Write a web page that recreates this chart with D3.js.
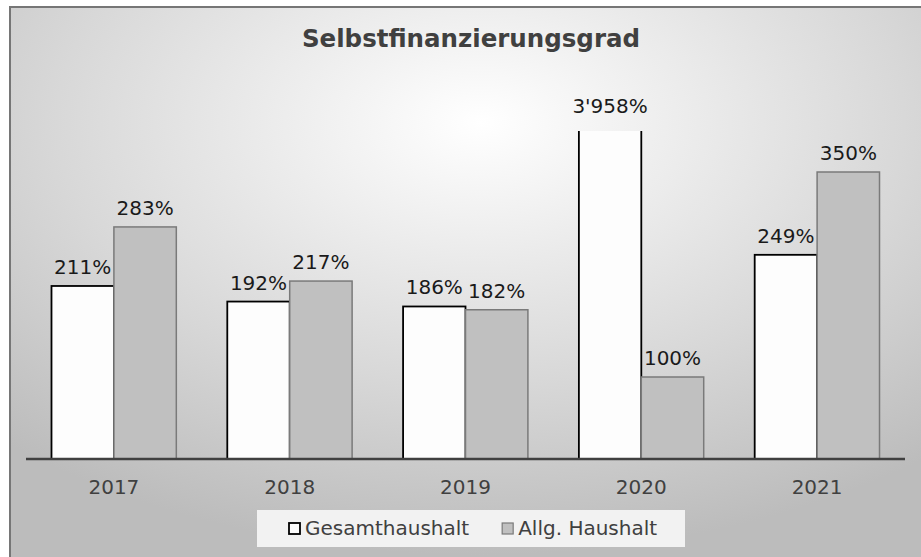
<!DOCTYPE html>
<html>
<head>
<meta charset="utf-8">
<script src="https://cdn.jsdelivr.net/npm/d3@7"></script>
<style>
  body { margin: 0; background: #fff; }
  text { font-family: "DejaVu Sans", Verdana, sans-serif; }
</style>
</head>
<body>
<div id="chart"></div>
<script>
// Chart data
var years = ["2017", "2018", "2019", "2020", "2021"];
var gesamt = [211, 192, 186, 3958, 249];
var allg = [283, 217, 182, 100, 350];
var seriesNames = ["Gesamthaushalt", "Allg. Haushalt"];
var yMax = 400;

var W = 921, H = 557;
var plot = { left: 26, right: 905, top: 131, bottom: 459 };

var svg = d3.select("#chart").append("svg")
  .attr("width", W)
  .attr("height", H);

var defs = svg.append("defs");
var grad = defs.append("radialGradient")
  .attr("id", "bg")
  .attr("cx", "0.5").attr("cy", "0.2").attr("r", "0.75")
  .attr("fx", "0.5").attr("fy", "0.2");
grad.append("stop").attr("offset", "0").attr("stop-color", "#ffffff");
grad.append("stop").attr("offset", "0.6").attr("stop-color", "#d8d8d8");
grad.append("stop").attr("offset", "1").attr("stop-color", "#bcbcbc");

defs.append("clipPath").attr("id", "plotclip")
  .append("rect")
  .attr("x", plot.left - 5).attr("y", plot.top)
  .attr("width", plot.right - plot.left + 10)
  .attr("height", plot.bottom - plot.top + 5);

// chart area with border
svg.append("rect")
  .attr("x", 10).attr("y", 7)
  .attr("width", W + 20).attr("height", H + 20)
  .attr("fill", "url(#bg)")
  .attr("stroke", "#767676")
  .attr("stroke-width", 2);

// title
svg.append("text")
  .attr("x", 471).attr("y", 47)
  .attr("text-anchor", "middle")
  .attr("font-size", 24.5)
  .attr("font-weight", "bold")
  .attr("fill", "#404040")
  .text("Selbstfinanzierungsgrad");

// scales
var x0 = d3.scaleBand()
  .domain(years)
  .range([plot.left, plot.right])
  .paddingInner(0.29)
  .paddingOuter(0.145);
var x1 = d3.scaleBand()
  .domain([0, 1])
  .range([0, x0.bandwidth()]);
var y = d3.scaleLinear()
  .domain([0, yMax])
  .range([plot.bottom, plot.top]);

var loc = d3.formatLocale({ decimal: ".", thousands: "'", grouping: [3], currency: ["", ""] });
var fmt = loc.format(",");

var rows = years.map(function (yr, i) {
  return { year: yr, vals: [gesamt[i], allg[i]] };
});

var fills = ["#fdfdfd", "#c0c0c0"];
var strokes = ["#000000", "#7a7a7a"];

var g = svg.append("g").attr("clip-path", "url(#plotclip)");
var groups = g.selectAll(".grp")
  .data(rows)
  .enter().append("g")
  .attr("transform", function (d) { return "translate(" + x0(d.year) + ",0)"; });

groups.selectAll("rect")
  .data(function (d) { return d.vals.map(function (v, k) { return { k: k, v: v }; }); })
  .enter().append("rect")
  .attr("x", function (d) { return x1(d.k); })
  .attr("y", function (d) { return d.v > yMax ? plot.top - 10 : y(d.v); })
  .attr("width", x1.bandwidth())
  .attr("height", function (d) { return plot.bottom - (d.v > yMax ? plot.top - 10 : y(d.v)); })
  .attr("fill", function (d) { return fills[d.k]; })
  .attr("stroke", function (d) { return strokes[d.k]; })
  .attr("stroke-width", function (d) { return d.k === 0 ? 1.8 : 1.5; });

// data labels
var labels = svg.append("g");
rows.forEach(function (r) {
  r.vals.forEach(function (v, k) {
    var top = v > yMax ? plot.top - 6 : y(v);
    labels.append("text")
      .attr("x", x0(r.year) + x1(k) + x1.bandwidth() / 2)
      .attr("y", top - 12)
      .attr("text-anchor", "middle")
      .attr("font-size", 20)
      .attr("fill", "#1a1a1a")
      .text(fmt(v) + "%");
  });
});

// x axis
var xAxis = d3.axisBottom(x0).tickSize(0).tickPadding(0);
var ax = svg.append("g")
  .attr("transform", "translate(0," + plot.bottom + ")")
  .call(xAxis);
ax.select(".domain")
  .attr("d", "M" + plot.left + ",0H" + plot.right)
  .attr("stroke", "#404040")
  .attr("stroke-width", 2.5);
ax.selectAll(".tick text")
  .attr("y", 35)
  .attr("dy", 0)
  .attr("font-size", 20)
  .attr("font-family", "DejaVu Sans, Verdana, sans-serif")
  .attr("fill", "#404040");

// legend
var leg = svg.append("g");
leg.append("rect")
  .attr("x", 257).attr("y", 510)
  .attr("width", 428).attr("height", 37)
  .attr("fill", "#f2f2f2");
var lx = 289;
seriesNames.forEach(function (name, k) {
  leg.append("rect")
    .attr("x", lx).attr("y", 523)
    .attr("width", 11).attr("height", 11)
    .attr("fill", fills[k])
    .attr("stroke", strokes[k])
    .attr("stroke-width", k === 0 ? 1.8 : 1.2);
  var t = leg.append("text")
    .attr("x", lx + 16).attr("y", 535)
    .attr("font-size", 20)
    .attr("fill", "#404040")
    .text(name);
  lx = lx + 16 + t.node().getComputedTextLength() + 33;
});
</script>
</body>
</html>
